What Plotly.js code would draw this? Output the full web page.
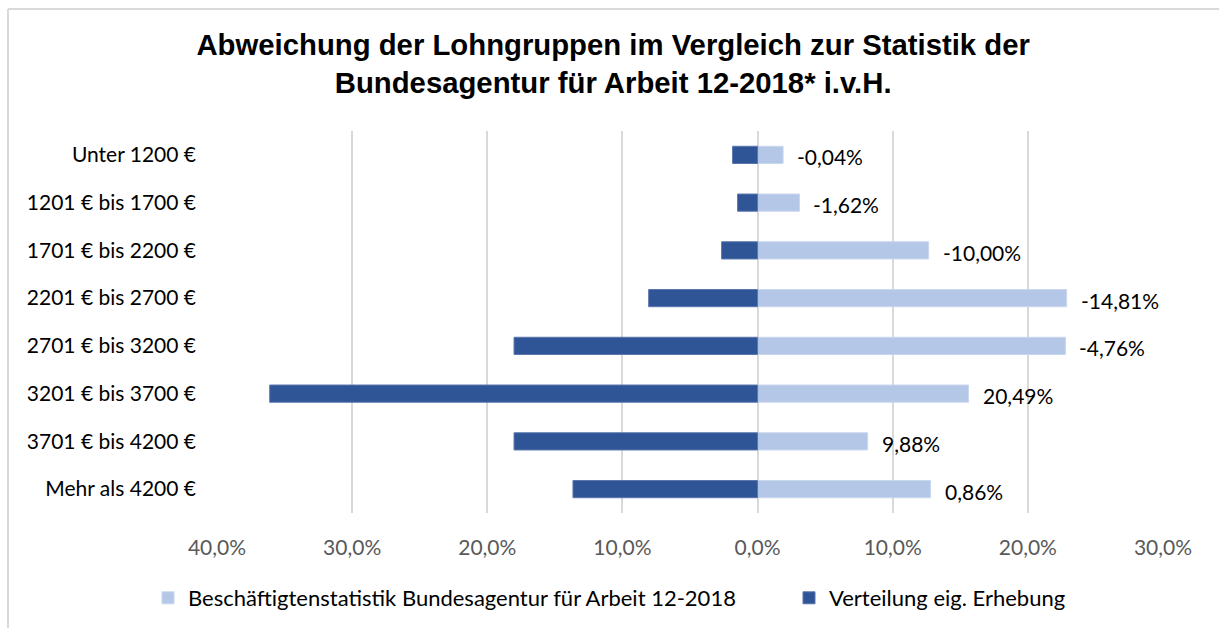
<!DOCTYPE html>
<html>
<head>
<meta charset="utf-8">
<script src="https://cdn.plot.ly/plotly-3.0.1.min.js"></script>
<style>
  html, body { margin: 0; padding: 0; background: #fff; }
  #chart { width: 1219px; height: 628px; }
</style>
</head>
<body>
<div id="chart"></div>
<script>
// ---- Data ----
const categories = [
  "Unter 1200 €",
  "1201 € bis 1700 €",
  "1701 € bis 2200 €",
  "2201 € bis 2700 €",
  "2701 € bis 3200 €",
  "3201 € bis 3700 €",
  "3701 € bis 4200 €",
  "Mehr als 4200 €"
];
// Beschäftigtenstatistik Bundesagentur für Arbeit 12-2018 (percent)
const baValues = [1.89, 3.10, 12.66, 22.87, 22.78, 15.61, 8.14, 12.80];
// Verteilung eig. Erhebung (percent, drawn to the left)
const ownValues = [1.85, 1.48, 2.66, 8.06, 18.02, 36.10, 18.02, 13.66];
// Deviation labels
const deviationLabels = ["-0,04%", "-1,62%", "-10,00%", "-14,81%", "-4,76%", "20,49%", "9,88%", "0,86%"];
const tickValues = [-40, -30, -20, -10, 0, 10, 20, 30];
const tickLabels = ["40,0%", "30,0%", "20,0%", "10,0%", "0,0%", "10,0%", "20,0%", "30,0%"];

const seriesNames = ["Beschäftigtenstatistik Bundesagentur für Arbeit 12-2018", "Verteilung eig. Erhebung"];

const W = 1219, H = 628;
const M = { l: 217, r: 56, t: 131, b: 115 };
const pw = W - M.l - M.r, ph = H - M.t - M.b;
const px2paperX = px => (px - M.l) / pw;
const py2paperY = py => (H - M.b - py) / ph;

const bodyFont = "Lato, 'Open Sans', sans-serif";
const fs = 21;

const traces = [
  {
    type: "bar",
    orientation: "h",
    name: seriesNames[0],
    y: categories,
    x: baValues,
    width: 0.36,
    legend: "legend",
    marker: { color: "#b4c7e7", line: { color: "#c9d7ef", width: 1 } },
    hoverinfo: "x+y"
  },
  {
    type: "bar",
    orientation: "h",
    name: seriesNames[1],
    y: categories,
    x: ownValues.map(v => -v),
    width: 0.36,
    legend: "legend2",
    marker: { color: "#2f5597", line: { color: "#5a77ad", width: 1 } },
    hoverinfo: "x+y"
  }
];

const annotations = categories.map((c, i) => ({
  x: baValues[i],
  y: c,
  xref: "x",
  yref: "y",
  text: deviationLabels[i],
  showarrow: false,
  xanchor: "left",
  yanchor: "middle",
  xshift: 12,
  yshift: -2,
  font: { family: bodyFont, size: fs, color: "#000" }
}));

const legendCommon = {
  orientation: "h",
  xref: "container",
  yref: "container",
  y: 1 - 598 / H,
  yanchor: "middle",
  xanchor: "left",
  bgcolor: "rgba(0,0,0,0)",
  font: { family: bodyFont, size: 22, color: "#000" },
  itemclick: false,
  itemdoubleclick: false
};

const layout = {
  width: W,
  height: H,
  margin: M,
  paper_bgcolor: "#fff",
  plot_bgcolor: "#fff",
  barmode: "overlay",
  showlegend: true,
  title: {
    text: "Abweichung der Lohngruppen im Vergleich zur Statistik der<br>Bundesagentur für Arbeit 12-2018* i.v.H.",
    font: { family: "'Liberation Sans', Arial, sans-serif", size: 29.3, color: "#000", weight: "bold" },
    x: 0.503,
    xref: "container",
    y: 1 - 55 / H,
    yref: "container",
    yanchor: "middle"
  },
  xaxis: {
    range: [-40, 30],
    tickvals: tickValues,
    ticktext: tickLabels,
    showgrid: true,
    gridcolor: "#d9d9d9",
    gridwidth: 2,
    zeroline: true,
    zerolinecolor: "#d9d9d9",
    zerolinewidth: 2,
    showline: false,
    ticks: "",
    ticklabelstandoff: 20,
    tickfont: { family: bodyFont, size: fs, color: "#595959" },
    fixedrange: true
  },
  yaxis: {
    type: "category",
    autorange: "reversed",
    showgrid: false,
    zeroline: false,
    showline: false,
    ticks: "",
    ticklabelstandoff: 20,
    tickfont: { family: bodyFont, size: fs, color: "#000" },
    fixedrange: true
  },
  legend: Object.assign({}, legendCommon, { x: 148 / W }),
  legend2: Object.assign({}, legendCommon, { x: 789 / W }),
  annotations: annotations,
  shapes: [
    { type: "line", xref: "paper", yref: "paper",
      x0: px2paperX(8), x1: px2paperX(W + 5), y0: py2paperY(9), y1: py2paperY(9),
      line: { color: "#d9d9d9", width: 2 } },
    { type: "line", xref: "paper", yref: "paper",
      x0: px2paperX(8), x1: px2paperX(8), y0: py2paperY(9), y1: py2paperY(H + 5),
      line: { color: "#d9d9d9", width: 2 } }
  ]
};

Plotly.newPlot("chart", traces, layout, { displayModeBar: false, staticPlot: false });
</script>
</body>
</html>
